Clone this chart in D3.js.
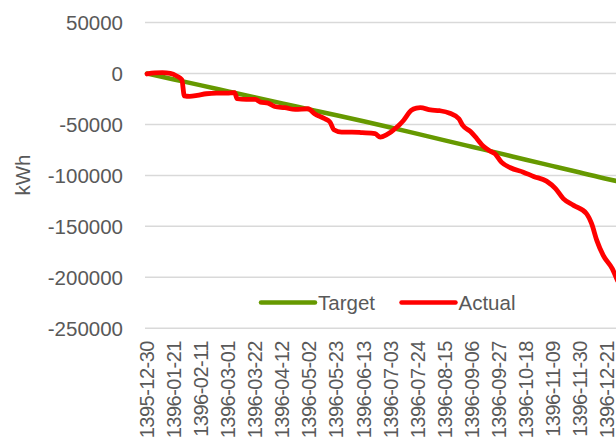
<!DOCTYPE html>
<html><head><meta charset="utf-8">
<script src="https://cdn.jsdelivr.net/npm/d3@7"></script>
<style>html,body{margin:0;padding:0;background:#fff;overflow:hidden}svg{display:block}</style>
</head><body><div id="chart"></div>
<script>
const tickLabels = ["1395-12-30","1396-01-21","1396-02-11","1396-03-01","1396-03-22","1396-04-12","1396-05-02","1396-05-23","1396-06-13","1396-07-03","1396-07-24","1396-08-15","1396-09-06","1396-09-27","1396-10-18","1396-11-09","1396-11-30","1396-12-21"];
const tickDays = [0,21,42,63,84,105,126,147,168,189,210,231,252,273,294,315,336,357];
const yTicks = [50000,0,-50000,-100000,-150000,-200000,-250000];

const targetDays   = [0,21,42,63,84,105,126,147,168,189,210,231,252,273,294,315,336,357,365];
const targetValues = [0,-5900,-11700,-17600,-23500,-29300,-35200,-41000,-46900,-53000,-59300,-65600,-71900,-78200,-84600,-90900,-97200,-103500,-105700];

const actualDays   = [0,6,12,18,23,27,29,33,39,46,54,62,68,70,77,84,88,94,99,107,115,125,130,138,142,145,151,159,167,177,181,186,194,199,205,209,212,220,227,235,242,245,251,256,261,266,270,275,282,292,300,310,317,323,331,341,345,349,354,361,365];
const actualValues = [-500,500,800,0,-2500,-6000,-22000,-22500,-21600,-19900,-19300,-19300,-18900,-24800,-25500,-25500,-28100,-29100,-32400,-33600,-35300,-34600,-39500,-44400,-47700,-55200,-57500,-57500,-58100,-59100,-62500,-60100,-52600,-46100,-36300,-34000,-33600,-35800,-36500,-39000,-44400,-51000,-56900,-64000,-71500,-76000,-78700,-87000,-92500,-96800,-101000,-105600,-113000,-122800,-129400,-137500,-147400,-163700,-178400,-191500,-203000];

const seriesNames = ["Target","Actual"];
const seriesColors = ["#669900","#FF0000"];

const W = 616, H = 437;
const svg = d3.select("#chart").append("svg").attr("width", W).attr("height", H);
const font = "'Liberation Sans', Arial, sans-serif";
const fs = 20.5;

const x = d3.scaleLinear().domain([0, 365]).range([147, 617.4]);
const y = d3.scaleLinear().domain([-250000, 50000]).range([328.3, 22.5]);

// gridlines
svg.append("g").selectAll("line").data(yTicks).join("line")
  .attr("x1", 145).attr("x2", W)
  .attr("y1", d => y(d)).attr("y2", d => y(d))
  .attr("stroke", "#d9d9d9").attr("stroke-width", 1.5);

// y axis labels
const yAxis = d3.axisLeft(y).tickValues(yTicks).tickSize(0).tickPadding(0).tickFormat(d => String(d));
const ya = svg.append("g").attr("transform", "translate(123,0)").call(yAxis);
ya.select(".domain").remove();
ya.selectAll("text").attr("font-family", font).attr("font-size", fs).attr("fill", "#595959").attr("dy", "0.35em");

// x axis labels
const xAxis = d3.axisBottom(x).tickValues(tickDays).tickSize(0).tickPadding(0).tickFormat((d,i) => tickLabels[i]);
const xa = svg.append("g").attr("transform", "translate(0,341)").call(xAxis);
xa.select(".domain").remove();
xa.selectAll("text")
  .attr("font-family", font).attr("font-size", 20).attr("fill", "#595959")
  .attr("text-anchor", "end").attr("transform", "rotate(-90)")
  .attr("x", 0).attr("y", 0).attr("dx", 0).attr("dy", "0.35em")
  .attr("letter-spacing", "-0.5");
xa.selectAll(".tick").attr("transform", d => `translate(${x(d)},0)`);

// kWh label
svg.append("text").attr("transform", "translate(23,175) rotate(-90)")
  .attr("text-anchor", "middle").attr("dy", "0.35em")
  .attr("font-family", font).attr("font-size", fs).attr("fill", "#595959").text("kWh");

// lines
const line = d3.line().x(d => x(d[0])).y(d => y(d[1])).curve(d3.curveMonotoneX);
svg.append("path").datum(targetDays.map((d,i) => [d, targetValues[i]]))
  .attr("d", line).attr("fill", "none").attr("stroke", seriesColors[0]).attr("stroke-width", 4.5).attr("stroke-linejoin","round").attr("stroke-linecap","round");
svg.append("path").datum(actualDays.map((d,i) => [d, actualValues[i]]))
  .attr("d", line).attr("fill", "none").attr("stroke", seriesColors[1]).attr("stroke-width", 4.8).attr("stroke-linejoin","round").attr("stroke-linecap","round");

// legend
const legX = [261, 401.5];
const lg = svg.append("g").selectAll("g").data(seriesNames).join("g")
  .attr("transform", (d,i) => `translate(${legX[i]},302.5)`);
lg.append("line").attr("x1", 0).attr("x2", 54).attr("y1", 0).attr("y2", 0)
  .attr("stroke", (d,i) => seriesColors[i]).attr("stroke-width", 4.5).attr("stroke-linecap", "round");
lg.append("text").attr("x", 57).attr("dy", "0.35em")
  .attr("font-family", font).attr("font-size", fs).attr("fill", "#595959").text(d => d);
</script></body></html>
